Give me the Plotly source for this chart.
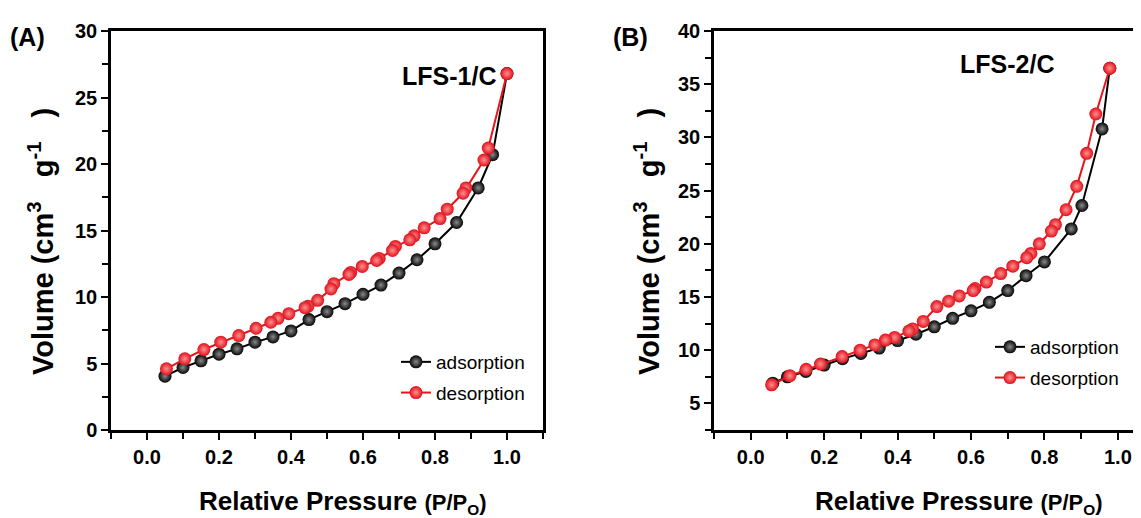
import plotly.graph_objects as go

# page is offset by the 8px body margin; figure fills the rest of the 1141x518 window
OFF = 8
W, H = 1141 - OFF, 518 - OFF

# Panel A (LFS-1/C)
a_ads_x = [0.05, 0.10, 0.15, 0.20, 0.25, 0.30, 0.35, 0.40, 0.45, 0.50, 0.55, 0.60, 0.65, 0.70, 0.75, 0.80, 0.86, 0.92, 0.96, 1.00]
a_ads_y = [4.05, 4.7, 5.2, 5.7, 6.1, 6.6, 7.0, 7.45, 8.3, 8.9, 9.5, 10.2, 10.9, 11.8, 12.8, 14.0, 15.6, 18.2, 20.7, 26.8]
a_des_x = [1.00, 0.948, 0.936, 0.886, 0.878, 0.834, 0.814, 0.77, 0.742, 0.73, 0.69, 0.682, 0.645, 0.638, 0.598, 0.566, 0.561, 0.519, 0.511, 0.474, 0.447, 0.439, 0.394, 0.364, 0.344, 0.303, 0.255, 0.205, 0.158, 0.105, 0.054]
a_des_y = [26.8, 21.2, 20.3, 18.2, 17.8, 16.6, 15.9, 15.2, 14.6, 14.3, 13.8, 13.5, 12.9, 12.75, 12.3, 11.85, 11.7, 11.0, 10.6, 9.75, 9.3, 9.2, 8.75, 8.4, 8.1, 7.65, 7.1, 6.6, 6.05, 5.35, 4.6]

# Panel B (LFS-2/C)
b_ads_x = [0.06, 0.10, 0.15, 0.20, 0.25, 0.30, 0.35, 0.40, 0.45, 0.50, 0.55, 0.60, 0.65, 0.70, 0.75, 0.80, 0.873, 0.902, 0.957, 0.978]
b_ads_y = [6.9, 7.5, 8.0, 8.6, 9.2, 9.7, 10.2, 10.9, 11.5, 12.2, 13.0, 13.7, 14.5, 15.6, 17.0, 18.3, 21.4, 23.6, 30.8, 36.5]
b_des_x = [0.978, 0.94, 0.915, 0.888, 0.859, 0.83, 0.819, 0.786, 0.763, 0.752, 0.714, 0.681, 0.642, 0.611, 0.606, 0.568, 0.539, 0.507, 0.47, 0.441, 0.431, 0.392, 0.367, 0.338, 0.298, 0.249, 0.19, 0.151, 0.107, 0.057]
b_des_y = [36.5, 32.2, 28.5, 25.4, 23.2, 21.8, 21.2, 20.0, 19.1, 18.7, 17.9, 17.2, 16.4, 15.8, 15.6, 15.1, 14.6, 14.1, 12.7, 12.0, 11.8, 11.2, 10.95, 10.5, 10.0, 9.4, 8.7, 8.2, 7.6, 6.75]

series_names = ["adsorption", "desorption"]
panel_labels = ["(A)", "(B)"]
sample_labels = ["LFS-1/C", "LFS-2/C"]
x_title = "Relative Pressure <span style='font-size:22px'>(P/P<sub>O</sub>)</span>"
y_title = "Volume (cm<sup>3</sup>\u00a0\u00a0 g<sup>-1</sup>\u00a0\u00a0\u00a0)"

FAM = "Liberation Sans, Arial, sans-serif"


def fx(page_x):
    return (page_x - OFF) / W


def fy(page_y):
    return 1 - (page_y - OFF) / H


def marker(color, center):
    return dict(size=13, color=color, symbol="circle",
                gradient=dict(type="radial", color=center),
                line=dict(width=0))


fig = go.Figure()

panels = [
    (a_ads_x, a_ads_y, a_des_x, a_des_y, "x", "y", "legend"),
    (b_ads_x, b_ads_y, b_des_x, b_des_y, "x2", "y2", "legend2"),
]
for ax_, ay_, dx_, dy_, xa, ya, lg in panels:
    fig.add_trace(go.Scatter(x=ax_, y=ay_, mode="lines+markers", name=series_names[0],
                             xaxis=xa, yaxis=ya, legend=lg, legendgroup=lg + "a",
                             line=dict(color="black", width=2),
                             marker=marker("#050505", "#8a8a8a")))
    fig.add_trace(go.Scatter(x=dx_, y=dy_, mode="lines+markers", name=series_names[1],
                             xaxis=xa, yaxis=ya, legend=lg, legendgroup=lg + "d",
                             line=dict(color="#e8141a", width=2),
                             marker=marker("#e0101a", "#ff9090")))

tickfont = dict(family=FAM, size=20, color="black", weight=700)
common_x = dict(showline=True, linewidth=2.5, linecolor="black", ticks="outside",
                ticklen=7, tickwidth=2, tickcolor="black", tickfont=tickfont,
                dtick=0.2, tick0=0, tickformat=".1f", showgrid=False, zeroline=False,
                automargin=False,
                minor=dict(dtick=0.1, ticks="outside", ticklen=6, tickwidth=2, tickcolor="black"))
common_y = dict(showline=True, linewidth=2.5, linecolor="black", ticks="outside",
                ticklen=7, tickwidth=2, tickcolor="black", tickfont=tickfont,
                dtick=5, tick0=0, showgrid=False, zeroline=False, automargin=False,
                minor=dict(dtick=2.5, ticks="outside", ticklen=6, tickwidth=2, tickcolor="black"))

ydom = [fy(430), fy(31)]
fig.update_layout(
    template="none",
    width=W, height=H, margin=dict(l=0, r=0, t=0, b=0, pad=0, autoexpand=False),
    plot_bgcolor="white", paper_bgcolor="white",
    xaxis=dict(common_x, domain=[fx(111), fx(543)], range=[-0.1, 1.1], mirror=True, anchor="y"),
    yaxis=dict(common_y, domain=ydom, range=[0, 30], mirror=True, anchor="x"),
    xaxis2=dict(common_x, domain=[fx(714), 1.0], range=[-0.1, 1.063], mirror=True, anchor="y2"),
    yaxis2=dict(common_y, domain=ydom, range=[2.5, 40], mirror=False, anchor="x2"),
    legend=dict(x=fx(396), y=fy(343), xanchor="left", yanchor="top",
                font=dict(family=FAM, size=19, color="black"), bgcolor="rgba(0,0,0,0)",
                tracegroupgap=3, itemwidth=30),
    legend2=dict(x=fx(990), y=fy(328), xanchor="left", yanchor="top",
                 font=dict(family=FAM, size=19, color="black"), bgcolor="rgba(0,0,0,0)",
                 tracegroupgap=3, itemwidth=30),
)

ann = []


def add_text(text, xc, yc, size, angle=0):
    ann.append(dict(text=text, x=fx(xc), y=fy(yc), xref="paper", yref="paper",
                    xanchor="center", yanchor="middle", textangle=angle, showarrow=False,
                    font=dict(family=FAM, size=size, color="black", weight=700)))


for lbl, xc in zip(panel_labels, [27, 630]):
    add_text(lbl, xc, 37, 25)
for lbl, xc, yc in zip(sample_labels, [449, 1007], [76, 64]):
    add_text(lbl, xc, yc, 25)
for xc in [343, 959]:
    add_text(x_title, xc, 502, 26)
for xc in [41, 647]:
    add_text(y_title, xc, 242, 29, -90)
fig.update_layout(annotations=ann)

fig.write_html("out.html")
